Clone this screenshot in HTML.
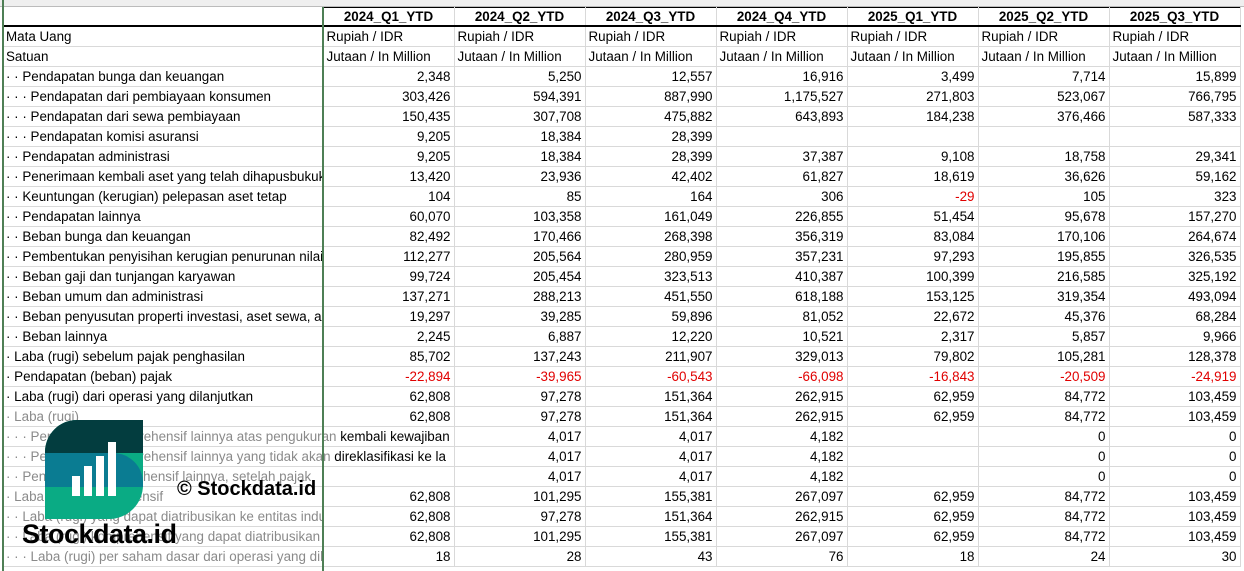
<!DOCTYPE html>
<html><head><meta charset="utf-8"><style>
body{margin:0;width:1244px;height:571px;overflow:hidden;background:#fff;font-family:"Liberation Sans",sans-serif;font-size:13.4px;color:#000;position:relative}
.top{position:absolute;left:0;top:0;width:1244px;height:6px;background:#efefef;border-bottom:1px solid #bbb}
table{position:absolute;left:3px;top:7px;border-collapse:collapse;table-layout:fixed;width:1237px}
td{height:19px;padding:0 3px;border:1px solid #d9d9d9;white-space:nowrap;overflow:hidden;text-align:right;line-height:19px;box-sizing:border-box}
td:first-child{text-align:left;border-left:none}
tr.h td{font-weight:bold;text-align:center;border-top:1px solid #000;border-bottom:2px solid #000;height:18px;line-height:17px}
tr.h td:first-child{border-top:none}
tr.u td{text-align:left}
td.ov{overflow:visible}
.r{color:#e00000}
.g td:first-child{color:#8a8a8a}
.frz{position:absolute;left:322px;top:7px;width:2px;height:564px;background:#4e7f55}
.lft{position:absolute;left:2px;top:0;width:2px;height:571px;background:#4e7f55}
.logo{position:absolute;left:45px;top:420px;width:98px;height:99px;border-radius:32px 0 34px 0;overflow:hidden;background:#0aab84}
.b1{position:absolute;left:0;top:0;width:98px;height:33px;background:#033d3f}
.b2{position:absolute;left:0;top:33px;width:98px;height:34px;background:#0a7c92;border-radius:0 30px 0 0}
.bar{position:absolute;background:#fff;width:8px;bottom:23px}
.w1{position:absolute;left:22px;top:519px;font-size:27px;font-weight:bold;letter-spacing:-0.5px;color:#000}
.w2{position:absolute;left:177px;top:478px;font-size:20px;font-weight:bold;color:#000}
</style></head><body>
<div class="top"></div>
<table>
<colgroup><col style="width:320px"><col style="width:131px"><col style="width:131px"><col style="width:131px"><col style="width:131px"><col style="width:131px"><col style="width:131px"><col style="width:131px"></colgroup>
<tr class="h"><td></td><td>2024_Q1_YTD</td><td>2024_Q2_YTD</td><td>2024_Q3_YTD</td><td>2024_Q4_YTD</td><td>2025_Q1_YTD</td><td>2025_Q2_YTD</td><td>2025_Q3_YTD</td></tr>
<tr class="u"><td>Mata Uang</td><td>Rupiah / IDR</td><td>Rupiah / IDR</td><td>Rupiah / IDR</td><td>Rupiah / IDR</td><td>Rupiah / IDR</td><td>Rupiah / IDR</td><td>Rupiah / IDR</td></tr>
<tr class="u"><td>Satuan</td><td>Jutaan / In Million</td><td>Jutaan / In Million</td><td>Jutaan / In Million</td><td>Jutaan / In Million</td><td>Jutaan / In Million</td><td>Jutaan / In Million</td><td>Jutaan / In Million</td></tr>
<tr><td>· · Pendapatan bunga dan keuangan</td><td>2,348</td><td>5,250</td><td>12,557</td><td>16,916</td><td>3,499</td><td>7,714</td><td>15,899</td></tr>
<tr><td>· · · Pendapatan dari pembiayaan konsumen</td><td>303,426</td><td>594,391</td><td>887,990</td><td>1,175,527</td><td>271,803</td><td>523,067</td><td>766,795</td></tr>
<tr><td>· · · Pendapatan dari sewa pembiayaan</td><td>150,435</td><td>307,708</td><td>475,882</td><td>643,893</td><td>184,238</td><td>376,466</td><td>587,333</td></tr>
<tr><td>· · · Pendapatan komisi asuransi</td><td>9,205</td><td>18,384</td><td>28,399</td><td></td><td></td><td></td><td></td></tr>
<tr><td>· · Pendapatan administrasi</td><td>9,205</td><td>18,384</td><td>28,399</td><td>37,387</td><td>9,108</td><td>18,758</td><td>29,341</td></tr>
<tr><td>· · Penerimaan kembali aset yang telah dihapusbukukan</td><td>13,420</td><td>23,936</td><td>42,402</td><td>61,827</td><td>18,619</td><td>36,626</td><td>59,162</td></tr>
<tr><td>· · Keuntungan (kerugian) pelepasan aset tetap</td><td>104</td><td>85</td><td>164</td><td>306</td><td class="r">-29</td><td>105</td><td>323</td></tr>
<tr><td>· · Pendapatan lainnya</td><td>60,070</td><td>103,358</td><td>161,049</td><td>226,855</td><td>51,454</td><td>95,678</td><td>157,270</td></tr>
<tr><td>· · Beban bunga dan keuangan</td><td>82,492</td><td>170,466</td><td>268,398</td><td>356,319</td><td>83,084</td><td>170,106</td><td>264,674</td></tr>
<tr><td>· · Pembentukan penyisihan kerugian penurunan nilai</td><td>112,277</td><td>205,564</td><td>280,959</td><td>357,231</td><td>97,293</td><td>195,855</td><td>326,535</td></tr>
<tr><td>· · Beban gaji dan tunjangan karyawan</td><td>99,724</td><td>205,454</td><td>323,513</td><td>410,387</td><td>100,399</td><td>216,585</td><td>325,192</td></tr>
<tr><td>· · Beban umum dan administrasi</td><td>137,271</td><td>288,213</td><td>451,550</td><td>618,188</td><td>153,125</td><td>319,354</td><td>493,094</td></tr>
<tr><td>· · Beban penyusutan properti investasi, aset sewa, aset tetap</td><td>19,297</td><td>39,285</td><td>59,896</td><td>81,052</td><td>22,672</td><td>45,376</td><td>68,284</td></tr>
<tr><td>· · Beban lainnya</td><td>2,245</td><td>6,887</td><td>12,220</td><td>10,521</td><td>2,317</td><td>5,857</td><td>9,966</td></tr>
<tr><td>· Laba (rugi) sebelum pajak penghasilan</td><td>85,702</td><td>137,243</td><td>211,907</td><td>329,013</td><td>79,802</td><td>105,281</td><td>128,378</td></tr>
<tr><td>· Pendapatan (beban) pajak</td><td class="r">-22,894</td><td class="r">-39,965</td><td class="r">-60,543</td><td class="r">-66,098</td><td class="r">-16,843</td><td class="r">-20,509</td><td class="r">-24,919</td></tr>
<tr><td>· Laba (rugi) dari operasi yang dilanjutkan</td><td>62,808</td><td>97,278</td><td>151,364</td><td>262,915</td><td>62,959</td><td>84,772</td><td>103,459</td></tr>
<tr class="g"><td>· Laba (rugi)</td><td>62,808</td><td>97,278</td><td>151,364</td><td>262,915</td><td>62,959</td><td>84,772</td><td>103,459</td></tr>
<tr class="g"><td class="ov">· · · Pendapatan komprehensif lainnya atas pengukuran <span style="color:#000">kembali kewajiban</span></td><td></td><td>4,017</td><td>4,017</td><td>4,182</td><td></td><td>0</td><td>0</td></tr>
<tr class="g"><td class="ov">· · · Pendapatan komprehensif lainnya yang tidak akan <span style="color:#000">direklasifikasi ke la</span></td><td></td><td>4,017</td><td>4,017</td><td>4,182</td><td></td><td>0</td><td>0</td></tr>
<tr class="g"><td>· · Pendapatan komprehensif lainnya, setelah pajak</td><td></td><td>4,017</td><td>4,017</td><td>4,182</td><td></td><td>0</td><td>0</td></tr>
<tr class="g"><td>· Laba (rugi) komprehensif</td><td>62,808</td><td>101,295</td><td>155,381</td><td>267,097</td><td>62,959</td><td>84,772</td><td>103,459</td></tr>
<tr class="g"><td>· · Laba (rugi) yang dapat diatribusikan ke entitas induk</td><td>62,808</td><td>97,278</td><td>151,364</td><td>262,915</td><td>62,959</td><td>84,772</td><td>103,459</td></tr>
<tr class="g"><td>· · Laba (rugi) komprehensif yang dapat diatribusikan</td><td>62,808</td><td>101,295</td><td>155,381</td><td>267,097</td><td>62,959</td><td>84,772</td><td>103,459</td></tr>
<tr class="g"><td>· · · Laba (rugi) per saham dasar dari operasi yang dilanjutkan</td><td>18</td><td>28</td><td>43</td><td>76</td><td>18</td><td>24</td><td>30</td></tr>
</table>
<div class="lft"></div>
<div class="frz"></div>
<div class="logo"><div class="b1"></div><div class="b2"></div>
<div class="bar" style="left:27px;height:20px"></div>
<div class="bar" style="left:39px;height:30px"></div>
<div class="bar" style="left:51px;height:40px"></div>
<div class="bar" style="left:63px;height:54px"></div>
</div>
<div class="w1">Stockdata.id</div>
<div class="w2">© Stockdata.id</div>
</body></html>
